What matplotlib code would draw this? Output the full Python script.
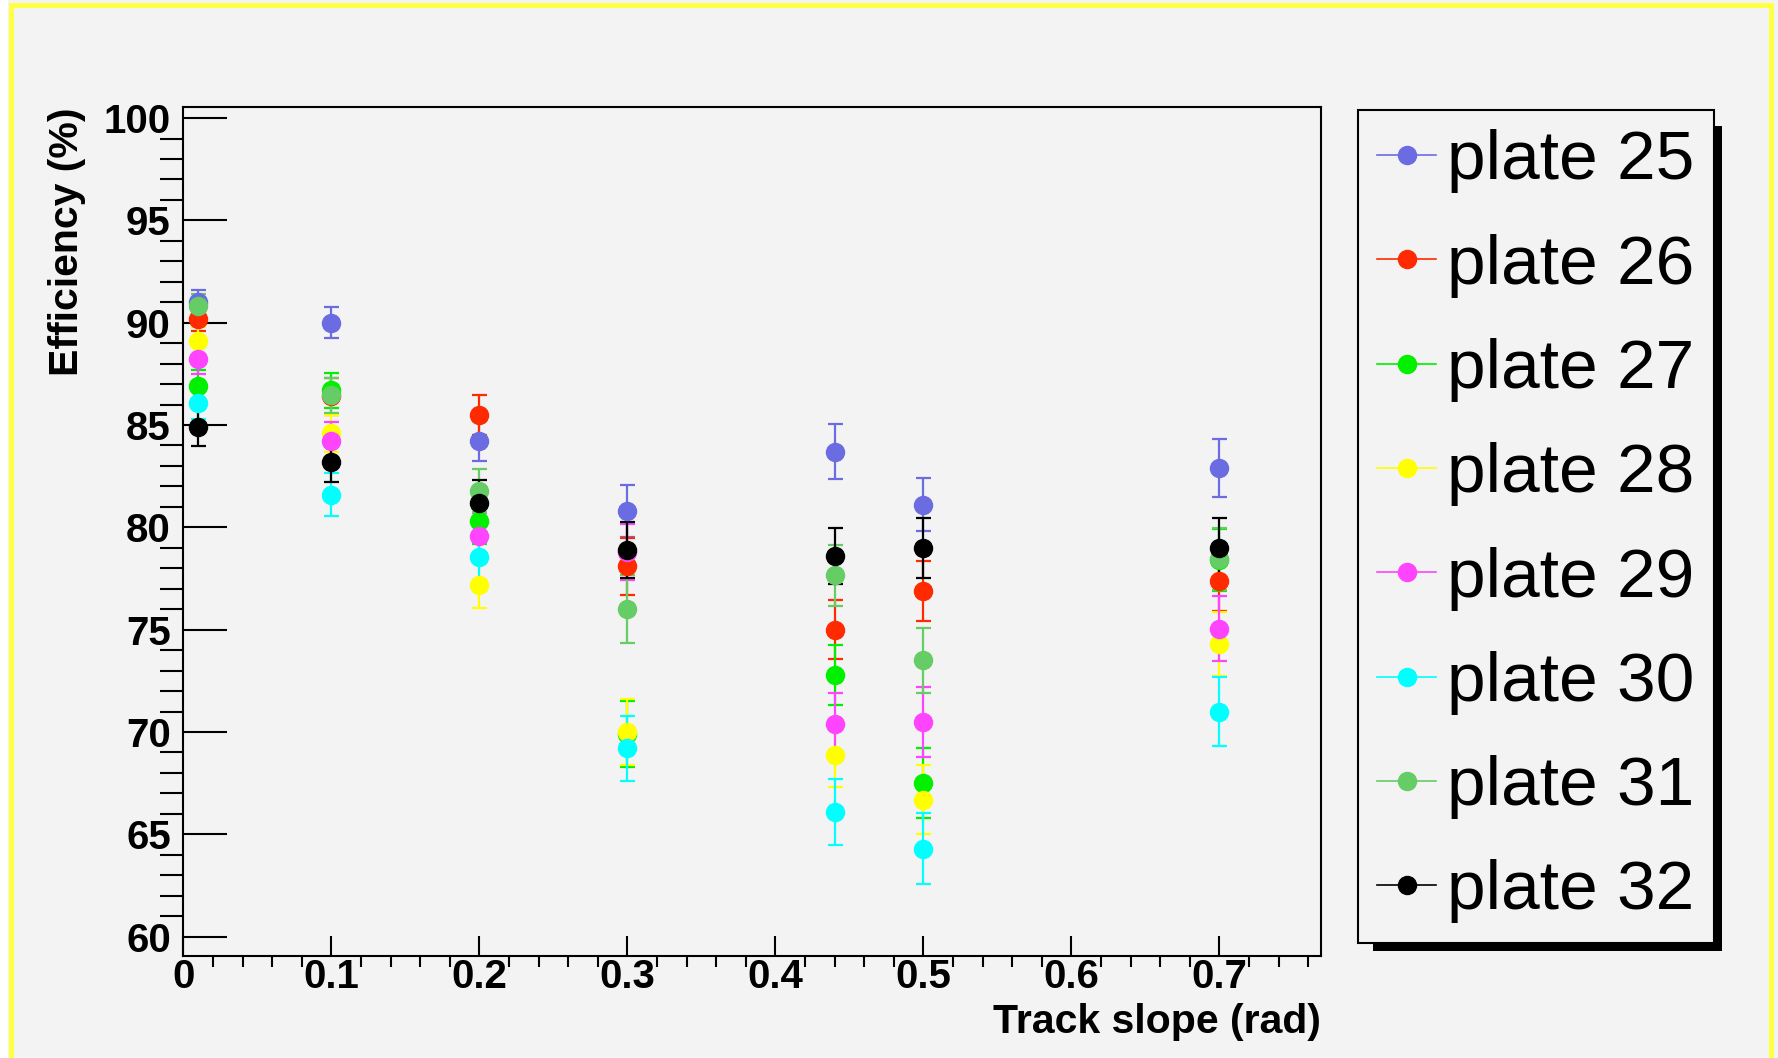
import matplotlib
matplotlib.use("Agg")
import matplotlib.pyplot as plt
from matplotlib.lines import Line2D
from matplotlib.patches import Rectangle
from matplotlib.ticker import MultipleLocator, FuncFormatter

plt.rcParams["font.family"] = ["Liberation Sans", "DejaVu Sans"]

# track slope bins (rad)
slopes = [0.01, 0.1, 0.2, 0.3, 0.44, 0.5, 0.7]

plates = ["plate 25", "plate 26", "plate 27", "plate 28",
          "plate 29", "plate 30", "plate 31", "plate 32"]
colors = ["#6c6ce2", "#ff2a00", "#00f000", "#ffff00",
          "#ff44ff", "#00ffff", "#66cc66", "#000000"]

eff25 = [91.0, 90.0, 84.2, 80.8, 83.7, 81.1, 82.9]
eff26 = [90.2, 86.4, 85.5, 78.1, 75.0, 76.9, 77.4]
eff27 = [86.9, 86.7, 80.3, 69.9, 72.8, 67.5, 78.4]
eff28 = [89.1, 84.6, 77.2, 70.0, 68.9, 66.7, 74.3]
eff29 = [88.25, 84.2, 79.6, 78.8, 70.4, 70.5, 75.05]
eff30 = [86.1, 81.6, 78.55, 69.2, 66.1, 64.3, 71.0]
eff31 = [90.8, 86.45, 81.8, 76.0, 77.65, 73.5, 78.45]
eff32 = [84.9, 83.2, 81.2, 78.9, 78.6, 79.0, 79.0]

err25 = [0.6, 0.77, 0.98, 1.27, 1.34, 1.3, 1.4]
err26 = [0.6, 0.9, 0.98, 1.4, 1.44, 1.47, 1.5]
err27 = [0.8, 0.85, 1.1, 1.6, 1.47, 1.7, 1.5]
err28 = [0.7, 0.9, 1.15, 1.6, 1.6, 1.67, 1.55]
err29 = [0.75, 0.95, 1.1, 1.35, 1.53, 1.7, 1.6]
err30 = [0.8, 1.06, 1.1, 1.6, 1.6, 1.75, 1.7]
err31 = [0.6, 0.85, 1.07, 1.65, 1.5, 1.6, 1.5]
err32 = [0.93, 1.0, 1.1, 1.38, 1.38, 1.47, 1.47]

effs = [eff25, eff26, eff27, eff28, eff29, eff30, eff31, eff32]
errs = [err25, err26, err27, err28, err29, err30, err31, err32]

W, H = 1778, 1058
bg = "#f3f3f3"
fig = plt.figure(figsize=(W / 100, H / 100), dpi=100, facecolor=bg)

# pixel box of the frame
x0, x1, ytop, ybot = 183.3, 1321, 107, 955.7
ax = fig.add_axes([x0 / W, 1 - ybot / H, (x1 - x0) / W, (ybot - ytop) / H])
ax.set_facecolor(bg)

for y, e, c in zip(effs, errs, colors):
    ax.errorbar(slopes, y, yerr=e, fmt="o", color=c, ms=13,
                elinewidth=1.6, capsize=5.4, capthick=1.6)

ax.set_xlim(0, 0.7687)
ax.set_ylim(59.07, 100.54)

ax.xaxis.set_major_locator(MultipleLocator(0.1))
ax.xaxis.set_minor_locator(MultipleLocator(0.02))
ax.yaxis.set_major_locator(MultipleLocator(5))
ax.yaxis.set_minor_locator(MultipleLocator(1))
ax.xaxis.set_major_formatter(FuncFormatter(lambda v, p: "%g" % round(v, 2)))
ax.yaxis.set_major_formatter(FuncFormatter(lambda v, p: "%g" % v))

for s in ax.spines.values():
    s.set_linewidth(1.5)

ax.tick_params(direction="in", top=False, right=False, width=1.5,
               labelsize=29)
ax.tick_params(axis="x", which="major", length=14.4, pad=2)
ax.tick_params(axis="x", which="minor", length=8, width=1.5)
ax.tick_params(axis="y", which="major", length=32, pad=9)
ax.tick_params(axis="y", which="minor", length=16.5, width=1.5)
for lab in ax.get_xticklabels() + ax.get_yticklabels():
    lab.set_fontweight("bold")

ax.set_xlabel("Track slope (rad)", fontsize=29.5, fontweight="bold",
              ha="right", va="top")
ax.xaxis.set_label_coords(1.0, -0.056)
ax.set_ylabel("Efficiency (%)", fontsize=29.5, fontweight="bold", loc="top")
ax.yaxis.set_label_coords(-0.0855, 1.0)

handles = [Line2D([], [], color=c, marker="o", ms=13, lw=1.2)
           for c in colors]
leg = ax.legend(handles, plates, loc="upper left",
                bbox_to_anchor=(1358 / W, 1 - 110 / H),
                bbox_transform=fig.transFigure, borderaxespad=0,
                fontsize=50, numpoints=1, handlelength=0.85,
                handletextpad=0.15, borderpad=0.28, labelspacing=0.58,
                fancybox=False, framealpha=1, facecolor=bg,
                edgecolor="black")
leg.get_frame().set_linewidth(1.5)

# legend shadow, ROOT style
fig.patches.append(Rectangle((1373 / W, 1 - 951 / H), (1722 - 1373) / W,
                             (951 - 126) / H, transform=fig.transFigure,
                             facecolor="black", edgecolor="none", zorder=-1))

# window border
fig.patches.append(Rectangle((0, 0), 8 / W, 1, transform=fig.transFigure,
                             facecolor="white", edgecolor="none", zorder=-1))
fig.patches.append(Rectangle((10.5 / W, -0.01), (1771 - 10.5) / W,
                             1.01 - 5 / H, transform=fig.transFigure,
                             fill=False, edgecolor="#ffff44", lw=3.6,
                             zorder=-1))

fig.savefig("out.png", dpi=100, facecolor=fig.get_facecolor())
